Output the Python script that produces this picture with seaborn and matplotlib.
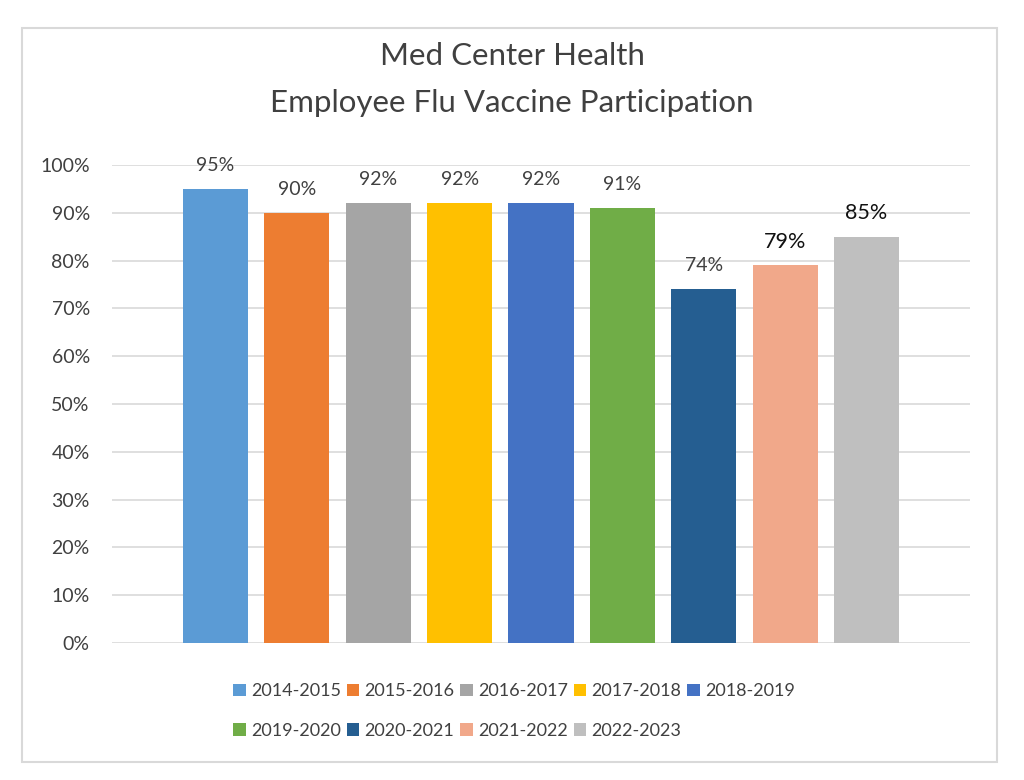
import matplotlib
matplotlib.use("Agg")
import matplotlib.pyplot as plt
from matplotlib.patches import Patch, Rectangle
import seaborn as sns
import pandas as pd

seasons = ["2014-2015", "2015-2016", "2016-2017", "2017-2018", "2018-2019",
           "2019-2020", "2020-2021", "2021-2022", "2022-2023"]
participation = [95, 90, 92, 92, 92, 91, 74, 79, 85]
colors = ["#5B9BD5", "#ED7D31", "#A5A5A5", "#FFC000", "#4472C4",
          "#70AD47", "#255E91", "#F1A88A", "#BFBFBF"]
title_lines = ["Med Center Health", "Employee Flu Vaccine Participation"]
yticks = [0, 10, 20, 30, 40, 50, 60, 70, 80, 90, 100]

sns.set_theme(style="white")
plt.rcParams["font.family"] = ["Lato", "DejaVu Sans"]

df = pd.DataFrame({"season": seasons, "value": participation})

fig = plt.figure(figsize=(10.24, 7.8), dpi=100)
ax = fig.add_axes([112 / 1024, 137 / 780, 858 / 1024, 478 / 780])

sns.barplot(data=df, x="season", y="value", hue="season", palette=colors,
            legend=False, width=0.8, ax=ax, saturation=1, linewidth=0)

ax.set_ylim(0, 100)
ax.set_xlim(-1.27, 9.27)
ax.set_yticks(yticks)
ax.set_yticklabels([f"{t}%" for t in yticks], fontsize=14, color="#404040")
ax.set_xticks([])
ax.set_xlabel("")
ax.set_ylabel("")
ax.tick_params(axis="y", length=0, pad=16)
ax.grid(axis="y", color="#D9D9D9", linewidth=1.2)
ax.set_axisbelow(True)
for s in ax.spines.values():
    s.set_visible(False)

for i, v in enumerate(participation):
    big = i >= 7
    ax.annotate(f"{v}%", xy=(i, v), xytext=(0, 17), textcoords="offset points",
                ha="center", va="center",
                fontsize=15.5 if big else 14,
                color="#111111" if big else "#404040")

fig.text(0.5, 1 - 56 / 780, title_lines[0], ha="center", va="center",
         fontsize=22.5, color="#404040")
fig.text(0.5, 1 - 103 / 780, title_lines[1], ha="center", va="center",
         fontsize=22.5, color="#404040")

handles = [Patch(facecolor=c, edgecolor="none") for c in colors]
order = [0, 5, 1, 6, 2, 7, 3, 8, 4]
fig.legend([handles[k] for k in order], [seasons[k] for k in order],
           ncol=5, loc="center", bbox_to_anchor=(514 / 1024, 1 - 711 / 780),
           frameon=False, fontsize=13, handlelength=0.7, handleheight=0.7,
           handletextpad=0.3, columnspacing=0.3, labelspacing=1.3,
           labelcolor="#404040")

fig.add_artist(Rectangle((22 / 1024, 1 - 762 / 780), 975 / 1024, 734 / 780,
                         transform=fig.transFigure, fill=False,
                         edgecolor="#D9D9D9", linewidth=1.5))

fig.savefig("out.png", dpi=100, facecolor="white")
